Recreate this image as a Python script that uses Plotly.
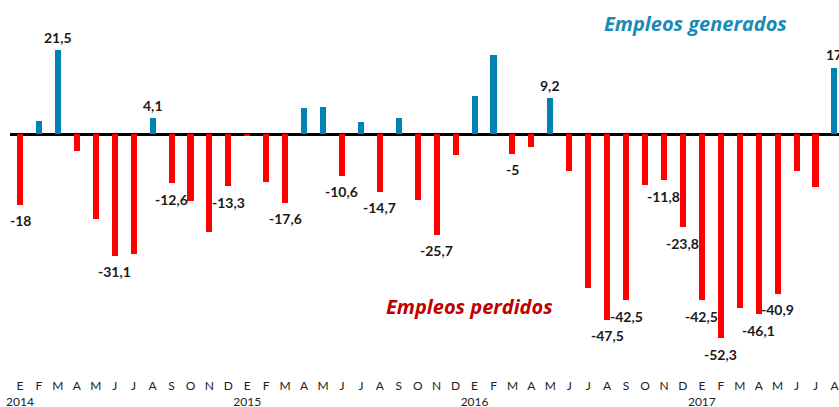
import plotly.graph_objects as go

month_letters = ["E", "F", "M", "A", "M", "J", "J", "A", "S", "O", "N", "D"]
years = ["2014", "2015", "2016", "2017"]
n_months = 44

values = [
    -18, 3.4, 21.5, -4.2, -21.8, -31.1, -30.8, 4.1, -12.6, -17.1, -25.1, -13.3,
    -0.4, -12.2, -17.6, 6.8, 7.0, -10.6, 3.2, -14.7, 4.2, -16.9, -25.7, -5.4,
    9.9, 20.2, -5, -3.2, 9.2, -9.5, -39.3, -47.5, -42.5, -13.0, -11.8, -23.8,
    -42.5, -52.3, -44.6, -46.1, -40.9, -9.4, -13.5, 17,
]

# indices of bars that carry a data label, with their printed text
label_idx = [0, 2, 5, 7, 8, 11, 14, 17, 19, 22, 26, 28, 31, 32, 34, 35, 36, 37, 39, 40, 43]
label_txt = ["-18", "21,5", "-31,1", "4,1", "-12,6", "-13,3", "-17,6", "-10,6", "-14,7",
             "-25,7", "-5", "9,2", "-47,5", "-42,5", "-11,8", "-23,8", "-42,5", "-52,3",
             "-46,1", "-40,9", "17"]

BLUE = "#0083B1"
RED = "#FF0000"

x = list(range(n_months))
ticktext = []
for i in x:
    m = month_letters[i % 12]
    if i % 12 == 0:
        ticktext.append(f"{m}<br>{years[i // 12]}")
    else:
        ticktext.append(m)

colors = [BLUE if v >= 0 else RED for v in values]

fig = go.Figure()
fig.add_trace(go.Bar(
    x=x, y=values, marker=dict(color=colors, line=dict(width=0)),
    width=0.32, hoverinfo="skip",
))

for i, t in zip(label_idx, label_txt):
    v = values[i]
    fig.add_annotation(
        x=i, y=v, text=t, showarrow=False,
        yshift=13 if v >= 0 else -16,
        font=dict(family="Lato", size=14, color="#1a1a1a", weight="bold"),
    )

fig.add_annotation(
    xref="paper", yref="paper", x=0.8275, y=0.986, text="Empleos generados",
    showarrow=False, xanchor="center", yanchor="middle",
    font=dict(family="Open Sans", size=20, color="#1A8AB6", weight="bold", style="italic"),
)
fig.add_annotation(
    xref="paper", yref="paper", x=0.5537, y=0.196, text="Empleos perdidos",
    showarrow=False, xanchor="center", yanchor="middle",
    font=dict(family="Open Sans", size=20, color="#C00000", weight="bold", style="italic"),
)

fig.update_layout(
    width=839, height=407,
    margin=dict(l=10, r=0, t=18, b=30, autoexpand=False),
    paper_bgcolor="white", plot_bgcolor="white",
    showlegend=False,
    bargap=0,
)
fig.update_xaxes(
    range=[-0.528, 43.24], tickmode="array", tickvals=x, ticktext=ticktext,
    tickangle=0, automargin=False, ticklabeloverflow="allow", ticklabelstandoff=0,
    showgrid=False, zeroline=False, showline=False, ticks="",
    tickfont=dict(family="Lato", size=12, color="#222222"),
)
fig.update_yaxes(
    range=[-62.2, 29.8], showgrid=False, showticklabels=False, automargin=False,
    zeroline=True, zerolinecolor="black", zerolinewidth=2.5,
)

fig.write_html(
    "out.html",
    config={"displayModeBar": False, "staticPlot": True},
    post_script="document.body.style.margin='0';document.body.style.overflow='hidden';",
)
